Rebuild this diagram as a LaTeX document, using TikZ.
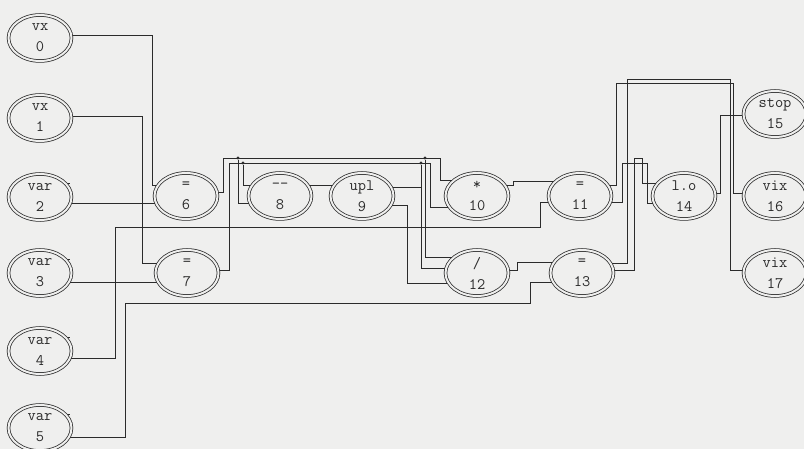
\documentclass[tikz,border=0pt]{standalone}
\usetikzlibrary{shapes.geometric}
\pgfdeclarelayer{paper}
\pgfdeclarelayer{wires}
\pgfsetlayers{paper,wires,main}
\definecolor{paper}{HTML}{EFEFEE}
\definecolor{ink}{HTML}{2B2B2B}
\tikzset{
  op/.style={ellipse, draw=ink, line width=0.75pt, double=paper,
    double distance=2pt, fill=paper, minimum width=63pt,
    minimum height=46pt, inner sep=0pt, align=center,
    font=\ttfamily\fontsize{16}{21}\selectfont, text=ink},
  wire/.style={draw=ink, line width=0.95pt},
  joint/.style={circle, fill=ink, inner sep=0pt, minimum size=3.4pt},
}
\begin{document}
\begin{tikzpicture}[x=1pt, y=-1pt]
\useasboundingbox (0,0) rectangle (804,449);
\begin{pgfonlayer}{paper}
  \fill[paper] (0,0) rectangle (804,449);
\end{pgfonlayer}

% inputs
\node[op] (n0) at (40,38)  {vx\\0};
\node[op] (n1) at (40,118) {vx\\1};
\node[op] (n2) at (40,197) {var\\2};
\node[op] (n3) at (40,273) {var\\3};
\node[op] (n4) at (40,351) {var\\4};
\node[op] (n5) at (40,428) {var\\5};
% operators
\node[op] (n6)  at (186,196) {=\\6};
\node[op] (n7)  at (187,273) {=\\7};
\node[op] (n8)  at (280,196) {{-}{-}\\8};
\node[op] (n9)  at (362,196) {upl\\9};
\node[op] (n10) at (477,196) {*\\10};
\node[op] (n11) at (580,196) {=\\11};
\node[op] (n12) at (477,273) {/\\12};
\node[op] (n13) at (582,273) {=\\13};
\node[op] (n14) at (684,196) {l.o\\14};
% outputs
\node[op] (n15) at (775,114) {stop\\15};
\node[op] (n16) at (775,196) {vix\\16};
\node[op] (n17) at (775,273) {vix\\17};

% bus junctions
\node[joint] (j1) at (238,158) {};
\node[joint] (j2) at (243,163) {};
\node[joint] (j3) at (421,163) {};
\node[joint] (j4) at (425,158) {};

\begin{pgfonlayer}{wires}
  % unused output stubs
  \foreach \v in {n2,n3,n4,n5} \draw[wire] (\v.28) -- ++(4,0);
  % inputs to the first assignments
  \draw[wire] (n0 |- 0,35) -| (152,185) -- (n6 |- 0,185);
  \draw[wire] (n1 |- 0,116) -| (142,263) -- (n7 |- 0,263);
  \draw[wire] (n2 |- 0,203) -- (n6 |- 0,203);
  \draw[wire] (n3 |- 0,282) -- (n7 |- 0,282);
  \draw[wire] (n4 |- 0,358) -| (115,227) -| (540,202) -- (n11 |- 0,202);
  \draw[wire] (n5 |- 0,437) -| (125,303) -| (530,282) -- (n13 |- 0,282);
  % upper bus from 6
  \draw[wire] (n6 |- 0,192) -| (223,158) -| (440,180) -- (n10 |- 0,180);
  \draw[wire] (j1) |- (n8 |- 0,203);
  \draw[wire] (j4) |- (n12 |- 0,257);
  % lower bus from 7 and 9
  \draw[wire] (n7 |- 0,270) -| (229,163) -| (430,207) -- (n10 |- 0,207);
  \draw[wire] (j2) |- (n8 |- 0,185);
  \draw[wire] (j3) |- (n12 |- 0,268);
  \draw[wire] (n9 |- 0,187) -- (j3 |- 0,187);
  % loop body
  \draw[wire] (n8 |- 0,185) -- (n9 |- 0,185);
  \draw[wire] (n9 |- 0,205) -| (407,283) -- (n12 |- 0,283);
  \draw[wire] (n10 |- 0,185) -| (513,181) -- (n11 |- 0,181);
  \draw[wire] (n12 |- 0,270) -| (517,262) -- (n13 |- 0,262);
  % results
  \draw[wire] (n11 |- 0,185) -| (616,83) -| (733,193) -- (n16 |- 0,193);
  \draw[wire] (n11 |- 0,202) -| (622,163) -| (647,203) -- (n14 |- 0,203);
  \draw[wire] (n13 |- 0,263) -| (627,79) -| (730,270) -- (n17 |- 0,270);
  \draw[wire] (n13 |- 0,270) -| (634,158) -| (642,183) -- (n14 |- 0,183);
  \draw[wire] (n14 |- 0,193) -| (720,115) -- (n15 |- 0,115);
\end{pgfonlayer}
\end{tikzpicture}
\end{document}
